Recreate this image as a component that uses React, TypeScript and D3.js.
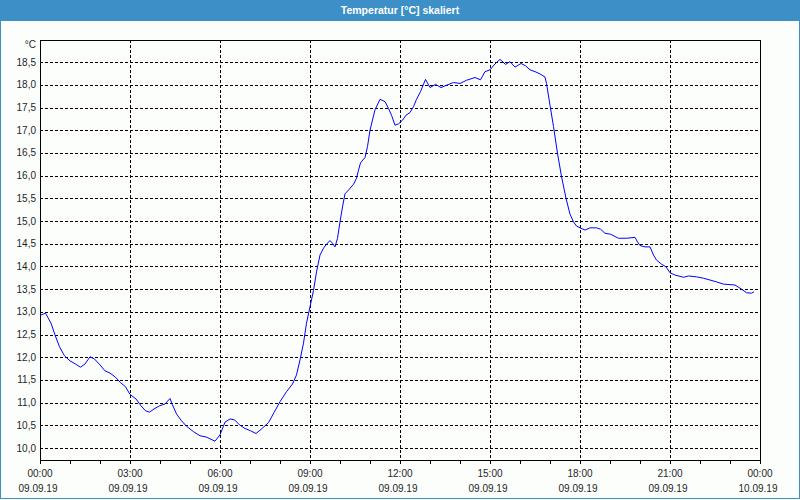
import React from "react";
import * as d3 from "d3";

const minutes = [0, 11, 22, 30, 39, 49, 60, 71, 81, 90, 100, 109, 120, 130, 140, 151, 161, 171, 180, 192, 202, 211, 219, 228, 239, 250, 260, 265, 273, 283, 293, 307, 320, 333, 350, 360, 370, 380, 389, 399, 410, 421, 432, 443, 457, 468, 480, 493, 505, 513, 520, 527, 533, 540, 547, 553, 560, 567, 573, 580, 585, 590, 595, 600, 605, 610, 617, 627, 633, 637, 641, 650, 655, 660, 670, 680, 690, 697, 703, 710, 717, 725, 732, 740, 747, 753, 761, 771, 780, 791, 802, 813, 827, 840, 853, 870, 881, 890, 900, 910, 920, 931, 940, 950, 962, 971, 980, 990, 1000, 1010, 1013, 1020, 1027, 1035, 1043, 1052, 1060, 1067, 1073, 1080, 1090, 1100, 1113, 1121, 1130, 1141, 1157, 1173, 1190, 1195, 1200, 1210, 1220, 1227, 1233, 1243, 1252, 1260, 1270, 1287, 1297, 1313, 1327, 1340, 1353, 1367, 1390, 1403, 1413, 1423, 1428];

const temperature = [12.92, 12.97, 12.75, 12.49, 12.23, 12.03, 11.92, 11.85, 11.78, 11.85, 12.01, 11.96, 11.83, 11.70, 11.65, 11.56, 11.44, 11.35, 11.18, 11.08, 10.93, 10.82, 10.79, 10.86, 10.93, 10.97, 11.09, 10.95, 10.75, 10.60, 10.48, 10.36, 10.27, 10.24, 10.15, 10.29, 10.57, 10.64, 10.62, 10.51, 10.43, 10.38, 10.32, 10.42, 10.56, 10.78, 11.02, 11.24, 11.41, 11.61, 11.94, 12.31, 12.75, 13.11, 13.47, 13.88, 14.25, 14.40, 14.49, 14.57, 14.51, 14.43, 14.62, 14.98, 15.31, 15.60, 15.68, 15.81, 15.94, 16.12, 16.28, 16.40, 16.64, 17.00, 17.45, 17.68, 17.63, 17.48, 17.33, 17.11, 17.14, 17.22, 17.33, 17.39, 17.52, 17.68, 17.85, 18.12, 17.94, 18.01, 17.94, 17.99, 18.05, 18.03, 18.10, 18.16, 18.11, 18.29, 18.33, 18.46, 18.56, 18.45, 18.51, 18.39, 18.47, 18.42, 18.33, 18.29, 18.24, 18.17, 18.03, 17.55, 17.08, 16.49, 15.98, 15.50, 15.15, 14.98, 14.89, 14.85, 14.80, 14.85, 14.85, 14.82, 14.73, 14.71, 14.62, 14.62, 14.64, 14.54, 14.46, 14.43, 14.43, 14.25, 14.14, 14.05, 13.99, 13.86, 13.81, 13.76, 13.79, 13.77, 13.74, 13.70, 13.66, 13.61, 13.59, 13.50, 13.42, 13.41, 13.44];

const yTicks = [10.0, 10.5, 11.0, 11.5, 12.0, 12.5, 13.0, 13.5, 14.0, 14.5, 15.0, 15.5, 16.0, 16.5, 17.0, 17.5, 18.0, 18.5];
const majorTickMinutes = [0, 180, 360, 540, 720, 900, 1080, 1260, 1440];
const timeLabels = ["00:00", "03:00", "06:00", "09:00", "12:00", "15:00", "18:00", "21:00", "00:00"];
const dateLabels = ["09.09.19", "09.09.19", "09.09.19", "09.09.19", "09.09.19", "09.09.19", "09.09.19", "09.09.19", "10.09.19"];
const hourTickMinutes = d3.range(0, 1441, 60);

const title = "Temperatur [°C] skaliert";
const unit = "°C";

const W = 800, H = 500;
const L = 40, R = 760, T = 40, B = 460;
const font = "'Liberation Sans', Arial, sans-serif";

export default function App() {
  const x = d3.scaleLinear().domain([0, 1440]).range([L, R]);
  const y = d3.scaleLinear().domain([9.736, 18.987]).range([B, T]);
  const line = d3.line<number>().x((_, i) => x(minutes[i])).y((d) => y(d));
  const px = (v: number) => Math.round(v) + 0.5;

  return (
    <svg width={W} height={H} style={{ position: "absolute", left: 0, top: 0, background: "#fcfefc" }}>
      <rect x={0} y={0} width={W} height={H} fill="#fcfefc" />
      <rect x={0.5} y={0.5} width={W - 1} height={H - 2} fill="none" stroke="#3c8fc7" strokeWidth={1} />
      <line x1={0} x2={W} y1={H - 1.5} y2={H - 1.5} stroke="#3c8fc7" />
      <rect x={0} y={0} width={W} height={21} fill="#3c8fc7" />
      <text x={W / 2} y={14} textAnchor="middle" fill="#ffffff" fontFamily={font} fontWeight="bold" fontSize={10.5}>
        {title}
      </text>

      {/* horizontal grid */}
      <g shapeRendering="crispEdges">
        {yTicks.map((t) => (
          <line key={"h" + t} x1={L} x2={R} y1={px(y(t))} y2={px(y(t))} stroke="#000" strokeDasharray="3,2" />
        ))}
        {majorTickMinutes.slice(1, -1).map((m) => (
          <line key={"v" + m} x1={px(x(m))} x2={px(x(m))} y1={T} y2={B} stroke="#000" strokeDasharray="3,2" />
        ))}
        {hourTickMinutes.map((m) => (
          <line key={"t" + m} x1={px(x(m))} x2={px(x(m))} y1={B} y2={B + 4} stroke="#000" />
        ))}
        <rect x={L + 0.5} y={T + 0.5} width={R - L} height={B - T} fill="none" stroke="#000" />
      </g>

      <path d={line(temperature) || ""} fill="none" stroke="#0000ff" strokeWidth={1} />

      <g fontFamily={font} fontSize={10} fill="#1e1e1e">
        <text x={36} y={48} textAnchor="end">{unit}</text>
        {yTicks.map((t) => (
          <text key={"l" + t} x={36} y={y(t) + 3.5} textAnchor="end">
            {d3.format(".1f")(t).replace(".", ",")}
          </text>
        ))}
        {majorTickMinutes.map((m, i) => (
          <g key={"x" + i}>
            <text x={x(m)} y={477} textAnchor="middle">{timeLabels[i]}</text>
            <text x={x(m) - 2} y={492} textAnchor="middle">{dateLabels[i]}</text>
          </g>
        ))}
      </g>
    </svg>
  );
}
